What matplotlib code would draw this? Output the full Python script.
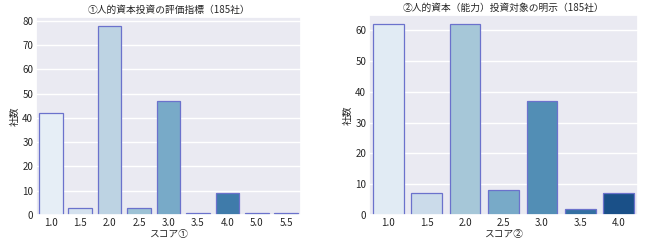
import matplotlib
matplotlib.use("Agg")
import matplotlib.pyplot as plt
import seaborn as sns

# score distributions (companies per score)
scores1 = ["1.0", "1.5", "2.0", "2.5", "3.0", "3.5", "4.0", "5.0", "5.5"]
counts1 = [42, 3, 78, 3, 47, 1, 9, 1, 1]
scores2 = ["1.0", "1.5", "2.0", "2.5", "3.0", "3.5", "4.0"]
counts2 = [62, 7, 62, 8, 37, 2, 7]

title1 = "①人的資本投資の評価指標（185社）"
title2 = "②人的資本（能力）投資対象の明示（185社）"

sns.set_theme(style="darkgrid")
plt.rcParams['font.family'] = ['Noto Sans CJK JP', 'DejaVu Sans']

fig = plt.figure(figsize=(6.5, 2.49), dpi=100)
ax1 = fig.add_axes([36/650, 1 - 215/249, 265/650, 198/249])
ax2 = fig.add_axes([369/650, 1 - 215/249, 269/650, 200/249])

def draw(ax, cats, vals, title, xlabel, ymax, yticks):
    # seaborn barplot style: Blues palette at 0.75 saturation
    colors = [sns.desaturate(c, 0.75) for c in sns.color_palette("Blues", len(cats))]
    ax.bar(range(len(cats)), vals, width=0.8, color=colors,
           edgecolor="#6b72cc", linewidth=0.9)
    ax.set_xticks(range(len(cats)))
    ax.set_xticklabels(cats)
    ax.set_xlim(-0.5, len(cats) - 0.5)
    ax.set_ylim(0, ymax)
    ax.set_yticks(yticks)
    ax.tick_params(labelsize=7, pad=2, length=0)
    ax.set_title(title, fontsize=7, pad=3)
    ax.set_xlabel(xlabel, fontsize=7, labelpad=1)
    ax.set_ylabel("社数", fontsize=7, labelpad=2)
    ax.grid(axis="x", visible=False)

draw(ax1, scores1, counts1, title1, "スコア①", 81.5, range(0, 81, 10))
draw(ax2, scores2, counts2, title2, "スコア②", 65, range(0, 61, 10))

fig.savefig("out.png", dpi=100)
